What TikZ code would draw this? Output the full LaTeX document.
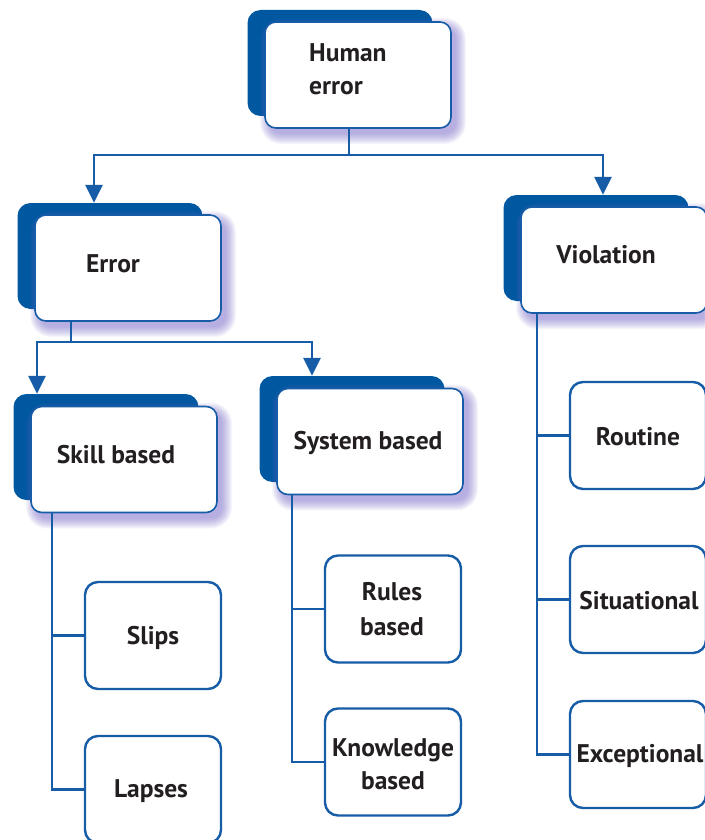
\documentclass[tikz,border=0pt]{standalone}
\usepackage{fontspec}
\setmainfont{PT Sans}
\usetikzlibrary{arrows.meta}
\definecolor{darkblue}{RGB}{0,88,160}
\definecolor{linec}{RGB}{22,92,166}
\definecolor{glow}{RGB}{115,100,200}
\definecolor{txt}{RGB}{35,31,32}
\tikzset{
  backbox/.style={draw=none, fill=darkblue, rounded corners=13pt, minimum width=185pt, minimum height=106pt, inner sep=0pt},
  frontbox/.style={draw=linec, line width=1.6pt, fill=white, rounded corners=11pt, minimum width=186pt, minimum height=106pt, inner sep=0pt},
  leafbox/.style={draw=linec, line width=2.4pt, fill=white, rounded corners=13pt, minimum width=136pt, minimum height=107pt, inner sep=0pt},
  conn/.style={draw=linec, line width=2.6pt},
  arr/.style={conn, -{Triangle[width=17pt,length=18pt]}},
  lbl/.style={font=\bfseries\fontsize{25.5}{30}\selectfont, text=txt, inner sep=0pt, anchor=base},
  lbll/.style={lbl, anchor=base west},
  glowstep/.style={fill=glow, fill opacity=0.06}
}
\newcommand{\myglow}[2]{%
  \foreach \r in {0,1,...,10}{%
    \fill[glowstep, rounded corners=11pt+\r pt]
      (#1-93+5-\r,#2-53+6-\r) rectangle (#1+93+5+\r,#2+53+6+\r);
  }%
}
\begin{document}
\begin{tikzpicture}[x=1pt,y=-1pt]
\useasboundingbox (0,0) rectangle (704,840);
\fill[white] (0,0) rectangle (704,840);
% big boxes
\node[backbox] (heb) at (340,63) {};
\myglow{358}{75}
\node[frontbox] (he) at (358,75) {};
\node[backbox] (errb) at (110,256) {};
\myglow{128}{268}
\node[frontbox] (err) at (128,268) {};
\node[backbox] (violb) at (596,248) {};
\myglow{614}{260}
\node[frontbox] (viol) at (614,260) {};
\node[backbox] (skillb) at (106,447) {};
\myglow{124}{459.5}
\node[frontbox] (skill) at (124,459.5) {};
\node[backbox] (sysb) at (352,429) {};
\myglow{370}{441.5}
\node[frontbox] (sys) at (370,441.5) {};
% leaves
\node[leafbox] (slips) at (153,635.5) {};
\node[leafbox] (lapses) at (153,789.5) {};
\node[leafbox] (rules) at (393,609) {};
\node[leafbox] (know) at (393,762) {};
\node[leafbox] (routine) at (638,435.5) {};
\node[leafbox] (situ) at (638,599.5) {};
\node[leafbox] (except) at (638,754.5) {};
% labels
\node[lbll] (t1) at (309,62) {Human};
\node[lbll] (t2) at (309,95) {error};
\node[lbl] (t3) at (113,272) {Error};
\node[lbl] (t4) at (606,263) {Violation};
\node[lbl] (t5) at (116,463) {Skill based};
\node[lbl] (t6) at (368,449) {System based};
\node[lbl] (t7) at (153,644) {Slips};
\node[lbl] (t8) at (151,797) {Lapses};
\node[lbl] (t9) at (392,600) {Rules};
\node[lbl] (t10) at (392,635) {based};
\node[lbl] (t11) at (393,756) {Knowledge};
\node[lbl] (t12) at (393,789) {based};
\node[lbl] (t13) at (638,445) {Routine};
\node[lbl] (t14) at (639,609) {Situational};
\node[lbl] (t15) at (640,762) {Exceptional};
% connectors
\coordinate (j1) at (349,155);
\draw[conn] (349,0 |- he.south) -- (j1);
\draw[arr] (j1) -| (94,0 |- errb.north);
\draw[arr] (j1) -| (603,0 |- violb.north);
\coordinate (j2) at (71,342);
\draw[conn] (71,0 |- err.south) -- (j2);
\draw[arr] (j2) -| (37,0 |- skillb.north);
\draw[arr] (j2) -| (312,0 |- sysb.north);
\draw[conn] (52,0 |- skill.south) |- (lapses.west);
\draw[conn] (52,0 |- slips.west) -- (slips.west);
\draw[conn] (292,0 |- sys.south) |- (know.west);
\draw[conn] (292,0 |- rules.west) -- (rules.west);
\draw[conn] (537,0 |- viol.south) |- (except.west);
\draw[conn] (537,0 |- routine.west) -- (routine.west);
\draw[conn] (537,0 |- situ.west) -- (situ.west);
\end{tikzpicture}
\end{document}
